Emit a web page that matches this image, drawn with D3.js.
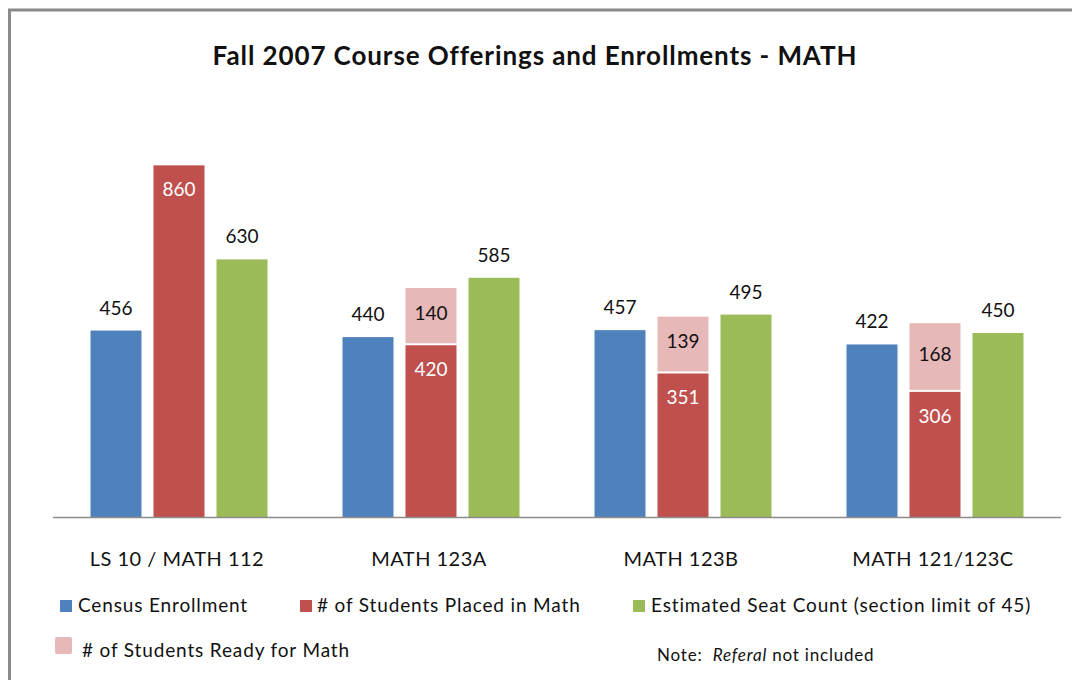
<!DOCTYPE html>
<html>
<head>
<meta charset="utf-8">
<script src="https://cdn.jsdelivr.net/npm/d3@7"></script>
<style>
  body { margin: 0; background: #fff; }
  svg { display: block; font-family: Lato, "Open Sans", sans-serif; }
</style>
</head>
<body>
<svg id="chart" width="1072" height="680"></svg>
<script>
// data
const categories = ["LS 10 / MATH 112", "MATH 123A", "MATH 123B", "MATH 121/123C"];
const census     = [456, 440, 457, 422];
const placed     = [860, 420, 351, 306];
const ready      = [null, 140, 139, 168];
const seats      = [630, 585, 495, 450];
const seriesKeys = ["census", "placed", "seats"];
const legendNames = ["Census Enrollment", "# of Students Placed in Math",
  "Estimated Seat Count (section limit of 45)", "# of Students Ready for Math"];

const colors = {census: "#4f81bd", placed: "#c0504d", seats: "#9bbb59", ready: "#e6b9b8"};

const plot = {left: 53, right: 1061, top: 149, bottom: 517};

const svg = d3.select("#chart");

// frame (only top and left edges show in the picture)
svg.append("path")
  .attr("d", "M9.5,680 L9.5,10 L1072,10")
  .attr("fill", "none")
  .attr("stroke", "#8a8a8a")
  .attr("stroke-width", 3);

svg.append("text")
  .attr("x", 535)
  .attr("y", 65)
  .attr("text-anchor", "middle")
  .attr("font-weight", "bold")
  .style("font-size", "26px")
  .style("letter-spacing", "0.9px")
  .attr("fill", "#111")
  .text("Fall 2007 Course Offerings and Enrollments - MATH");

const x0 = d3.scaleBand()
  .domain(categories)
  .range([plot.left, plot.right])
  .paddingInner(0)
  .paddingOuter(0);

const groupW = 177;
const x1 = d3.scaleBand()
  .domain(seriesKeys)
  .range([0, groupW])
  .paddingInner(12 / 63);

const y = d3.scaleLinear().domain([0, 900]).range([plot.bottom, plot.top]);

const rows = categories.map(function(c, i) {
  return {cat: c, census: census[i], placed: placed[i], ready: ready[i], seats: seats[i]};
});

const groups = svg.append("g").selectAll("g")
  .data(rows)
  .enter().append("g")
    .attr("transform", function(d) {
      return "translate(" + (x0(d.cat) + (x0.bandwidth() - groupW) / 2) + ",0)";
    });

// plain bars
groups.selectAll("rect.bar")
  .data(function(d) { return seriesKeys.map(function(k) { return {key: k, value: d[k]}; }); })
  .enter().append("rect")
    .attr("class", "bar")
    .attr("x", function(d) { return x1(d.key); })
    .attr("y", function(d) { return y(d.value); })
    .attr("width", x1.bandwidth())
    .attr("height", function(d) { return y(0) - y(d.value); })
    .attr("fill", function(d) { return colors[d.key]; });

// "ready" stacked on top of placed, with a small white gap
groups.filter(function(d) { return d.ready != null; })
  .append("rect")
    .attr("x", x1("placed"))
    .attr("y", function(d) { return y(d.placed + d.ready); })
    .attr("width", x1.bandwidth())
    .attr("height", function(d) { return y(d.placed) - y(d.placed + d.ready) - 2; })
    .attr("fill", colors.ready);

// labels above census and seats
groups.selectAll("text.above")
  .data(function(d) { return [{key: "census", value: d.census}, {key: "seats", value: d.seats}]; })
  .enter().append("text")
    .attr("class", "above")
    .attr("x", function(d) { return x1(d.key) + x1.bandwidth() / 2; })
    .attr("y", function(d) { return y(d.value) - 16; })
    .attr("text-anchor", "middle")
    .style("font-size", "19px")
    .attr("fill", "#111")
    .text(function(d) { return d.value; });

// placed label inside the top of red bar
groups.append("text")
  .attr("x", x1("placed") + x1.bandwidth() / 2)
  .attr("y", function(d) { return y(d.placed) + 31; })
  .attr("text-anchor", "middle")
  .style("font-size", "19px")
  .attr("fill", "#fff")
  .text(function(d) { return d.placed; });

// ready label in the pink segment
groups.filter(function(d) { return d.ready != null; })
  .append("text")
    .attr("x", x1("placed") + x1.bandwidth() / 2)
    .attr("y", function(d) { return (y(d.placed + d.ready) + y(d.placed)) / 2 + 3; })
    .attr("text-anchor", "middle")
    .style("font-size", "19px")
    .attr("fill", "#111")
    .text(function(d) { return d.ready; });

// baseline + category labels
svg.append("line")
  .attr("x1", plot.left).attr("x2", plot.right)
  .attr("y1", y(0) + 0.5).attr("y2", y(0) + 0.5)
  .attr("stroke", "#8c8c8c")
  .attr("stroke-width", 1.5);

svg.append("g").selectAll("text")
  .data(categories)
  .enter().append("text")
    .attr("x", function(d) { return x0(d) + x0.bandwidth() / 2 - 2; })
    .attr("y", 566)
    .attr("text-anchor", "middle")
    .style("font-size", "20px")
    .style("letter-spacing", "0.5px")
    .attr("fill", "#111")
    .text(function(d) { return d; });

// legend
const legendItems = [
  {name: legendNames[0], color: colors.census, sx: 60, sy: 600, s: 12, tx: 78, ty: 612},
  {name: legendNames[1], color: colors.placed, sx: 300, sy: 600, s: 12, tx: 317, ty: 612},
  {name: legendNames[2], color: colors.seats, sx: 633, sy: 600, s: 12, tx: 651, ty: 612},
  {name: legendNames[3], color: colors.ready, sx: 55, sy: 637, s: 17, tx: 82, ty: 657}
];

const legend = svg.append("g").selectAll("g")
  .data(legendItems)
  .enter().append("g");

legend.append("rect")
  .attr("x", function(d) { return d.sx; })
  .attr("y", function(d) { return d.sy; })
  .attr("width", function(d) { return d.s; })
  .attr("height", function(d) { return d.s; })
  .attr("rx", function(d) { return d.s > 12 ? 2 : 0; })
  .attr("fill", function(d) { return d.color; });

legend.append("text")
  .attr("x", function(d) { return d.tx; })
  .attr("y", function(d) { return d.ty; })
  .style("font-size", "19px")
  .style("letter-spacing", "0.85px")
  .attr("fill", "#111")
  .text(function(d) { return d.name; });

const note = svg.append("text")
  .attr("x", 657)
  .attr("y", 661)
  .style("font-size", "17px")
  .style("letter-spacing", "0.8px")
  .style("white-space", "pre")
  .attr("fill", "#111");
note.append("tspan").text("Note:  ");
note.append("tspan").attr("font-style", "italic").text("Referal");
note.append("tspan").text(" not included");
</script>
</body>
</html>
